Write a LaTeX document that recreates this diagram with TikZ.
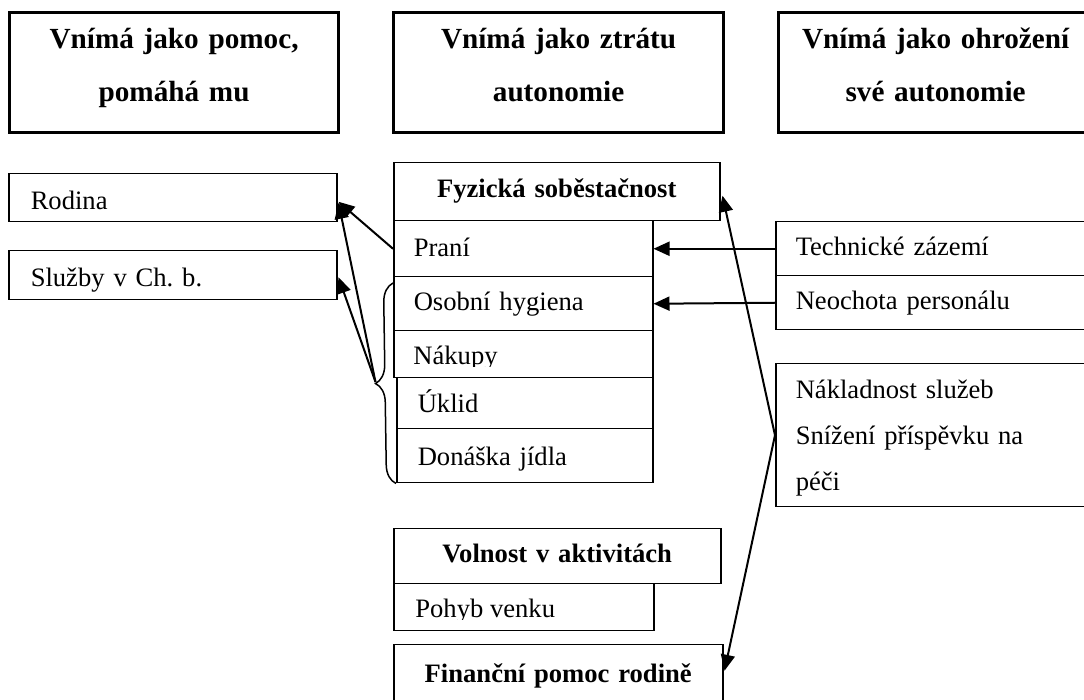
\documentclass[tikz,border=0pt]{standalone}
\usepackage{fontspec}
\setmainfont{Liberation Serif}
\frenchspacing
\usetikzlibrary{arrows.meta,calc,decorations.pathreplacing}
\newcommand\txtfnt{\fontsize{13.3pt}{23pt}\selectfont}
\newcommand\headfnt{\fontsize{14.6pt}{26.5pt}\selectfont\bfseries}
\begin{document}
\begin{tikzpicture}[x=0.5pt,y=-0.5pt,
  head/.style={draw, line width=1.6pt, anchor=north west, inner sep=0pt,
    align=center, font=\headfnt, text height=18pt, text depth=42pt},
  item/.style={draw, line width=0.75pt, anchor=north west, inner ysep=0pt,
    inner xsep=10pt, align=left, font=\txtfnt},
  title/.style={draw, line width=0.75pt, anchor=north west, inner sep=0pt,
    align=center, font=\txtfnt\bfseries},
  frame/.style={draw, line width=0.75pt, anchor=north west, inner sep=0pt},
  cliptext/.style={anchor=base west, inner sep=0pt, font=\txtfnt},
  arr/.style={line width=1pt, -{Triangle[length=8pt,width=7pt]}},
]
\useasboundingbox (0,0) rectangle (1084,700);
\fill[white] (0,0) rectangle (1084,700);
\clip (0,0) rectangle (1084,700);

% column headings
\node[head, text width=164.5pt] (pomoc) at (8,11) {Vnímá jako pomoc,\\ pomáhá mu};
\node[head, text width=165pt] (ztrata) at (392,11) {Vnímá jako ztrátu\\ autonomie};
\node[head, text width=157pt] (ohrozeni) at (777,11) {Vnímá jako ohrožení\\ své autonomie};

% left column
\node[item, inner xsep=11pt, text width=142pt, text height=18pt, text depth=6pt] (rodina) at (8,173) {Rodina};
\node[item, inner xsep=11pt, text width=142pt, text height=18pt, text depth=6.5pt] (sluzby) at (8,250) {Služby v Ch.\ b.};

% middle column: physical self-sufficiency
\node[title, text width=163pt, text height=17.5pt, text depth=11.5pt] (fyz) at (393,162) {Fyzická soběstačnost};
\node[item, text width=109.5pt, text height=18pt, text depth=10pt] (prani) at (393,220) {Praní};
\node[item, text width=109.5pt, text height=17pt, text depth=10pt] (hyg) at (393,276) {Osobní hygiena};
\node[frame, minimum width=129.5pt, minimum height=23.5pt] (nakupy) at (393,330) {};
\begin{scope}
  \clip (393,330) rectangle (652,366.5);
  \node[cliptext] (nakupytxt) at (413,365) {Nákupy};
\end{scope}
\node[item, inner xsep=10.5pt, text width=107pt, text height=17.5pt, text depth=8pt] (uklid) at (396,377) {Úklid};
\node[item, inner xsep=10.5pt, text width=107pt, text height=18.5pt, text depth=8.5pt] (donaska) at (396,428) {Donáška jídla};

% middle column: activities and family
\node[title, text width=163.5pt, text height=17pt, text depth=10.5pt] (volnost) at (393,528) {Volnost v aktivitách};
\node[frame, minimum width=130pt, minimum height=23.5pt] (pohyb) at (393,583) {};
\begin{scope}
  \clip (393,583) rectangle (653,620);
  \node[cliptext] (pohybtxt) at (415,618) {Pohyb venku};
\end{scope}
\node[title, text width=164.5pt, text height=19pt, text depth=11pt] (financni) at (393,644) {Finanční pomoc rodině};

% right column
\node[item, text width=145pt, text height=17pt, text depth=10pt] (tech) at (775,221) {Technické zázemí};
\node[item, text width=145pt, text height=17pt, text depth=10pt] (neochota) at (775,275) {Neochota personálu};
\node[item, text width=145pt, text height=17.5pt, text depth=54pt] (naklady) at (775,363) {Nákladnost služeb\\ Snížení příspěvku na\\ péči};

% brace grouping the services
\draw[line width=0.75pt, decorate, decoration={brace, amplitude=9.5pt}]
  (donaska.south west) -- ($(hyg.north west)+(0,7)$);
\coordinate (bracetip) at (375.5,382);

% connectors
\draw[arr] (prani.west) -- ($(rodina.east)+(1,4)$);
\draw[arr] (bracetip) -- ($(rodina.east)+(1,5)$);
\draw[arr] (bracetip) -- ($(sluzby.east)+(1,2)$);
\draw[arr] (tech.west) -- (prani.east);
\draw[arr] (neochota.west) -- (hyg.east);
\draw[arr] (naklady.west) -- ($(fyz.east)+(2,4)$);
\draw[arr] (naklady.west) -- ($(financni.east)+(1,-4)$);
\end{tikzpicture}
\end{document}
